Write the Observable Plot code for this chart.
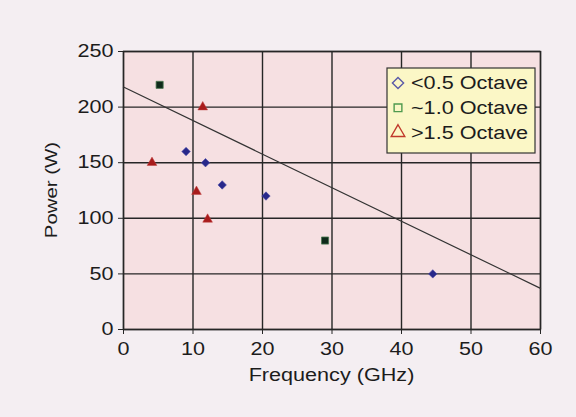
<!DOCTYPE html>
<html><head><meta charset="utf-8">
<script src="https://cdn.jsdelivr.net/npm/d3@7"></script>
<script src="https://cdn.jsdelivr.net/npm/@observablehq/plot@0.6"></script>
<style>body{margin:0;background:#f4eef2;}</style>
</head><body><div id="chart"></div>
<script>
const seriesNames = ["<0.5 Octave", "~1.0 Octave", ">1.5 Octave"];
const lowFreq = [9, 11.8, 14.2, 20.5, 44.5];
const lowPower = [160, 150, 130, 120, 50];
const midFreq = [5.2, 29];
const midPower = [220, 80];
const highFreq = [4.1, 11.4, 10.5, 12.1];
const highPower = [150, 200, 124, 99];
const trendFreq = [0, 60];
const trendPower = [218, 37];
const xTicks = [0, 10, 20, 30, 40, 50, 60];
const yTicks = [0, 50, 100, 150, 200, 250];
const xTitle = "Frequency (GHz)";
const yTitle = "Power (W)";

const toRows = (fs, ps) => fs.map((f, i) => ({f, p: ps[i]}));
const low = toRows(lowFreq, lowPower);
const mid = toRows(midFreq, midPower);
const high = toRows(highFreq, highPower);
const trend = toRows(trendFreq, trendPower);

const ink = "#262626";
const plot = Plot.plot({
  width: 576, height: 417,
  marginLeft: 123, marginRight: 36, marginTop: 51, marginBottom: 88,
  style: {background: "#f4eef2", fontFamily: "'Liberation Sans', Arial, sans-serif", fontSize: "18px", color: "#1c1c1c", overflow: "visible"},
  x: {domain: [0, 60]},
  y: {domain: [0, 250]},
  marks: [
    Plot.frame({fill: "#f6e0e2"}),
    Plot.gridX(xTicks, {stroke: ink, strokeOpacity: 1, strokeWidth: 1.4}),
    Plot.gridY(yTicks, {stroke: ink, strokeOpacity: 1, strokeWidth: 1.4}),
    Plot.frame({stroke: ink, strokeWidth: 1.4}),
    Plot.axisX(xTicks, {tickSize: 5, tickPadding: 8, label: null, stroke: ink}),
    Plot.axisY(yTicks, {tickSize: 5, tickPadding: 5, label: null, stroke: ink}),
    Plot.line(trend, {x: "f", y: "p", stroke: "#333", strokeWidth: 1.2}),
    Plot.dot(low, {x: "f", y: "p", symbol: "diamond2", r: 3.8, fill: "#28288a", stroke: "#4a4aa8", strokeWidth: 0.6}),
    Plot.dot(mid, {x: "f", y: "p", symbol: "square", r: 4, fill: "#0f2a1a", stroke: "#4a7a50", strokeWidth: 0.8}),
    Plot.dot(high, {x: "f", y: "p", symbol: "triangle", r: 3.6, fill: "#a81c1c", stroke: "#c04040", strokeWidth: 0.5})
  ]
});
document.getElementById("chart").append(plot);

const svg = d3.select(plot);
svg.append("text").attr("x", 331.5).attr("y", 381).attr("text-anchor", "middle")
  .attr("fill", "#1c1c1c").attr("font-size", 18).text(xTitle);
svg.append("text").attr("transform", "translate(57,190) rotate(-90)").attr("text-anchor", "middle")
  .attr("fill", "#1c1c1c").attr("font-size", 17).text(yTitle);

// legend
const lg = svg.append("g").attr("text-anchor", "start");
lg.append("rect").attr("x", 387).attr("y", 68).attr("width", 148).attr("height", 85)
  .attr("fill", "#fbf7c6").attr("stroke", "#333").attr("stroke-width", 1.2);
const legendSyms = [
  {sym: d3.symbolDiamond2, size: 80, stroke: "#5a5aa8"},
  {sym: d3.symbolSquare, size: 60, stroke: "#4f9a4f"},
  {sym: d3.symbolTriangle, size: 80, stroke: "#c0392b"}
];
seriesNames.forEach((name, i) => {
  const cy = 83 + i * 24.8;
  lg.append("path").attr("d", d3.symbol(legendSyms[i].sym, legendSyms[i].size)())
    .attr("transform", `translate(398,${cy + (i === 2 ? 0 : 0)})`)
    .attr("fill", "none").attr("stroke", legendSyms[i].stroke).attr("stroke-width", 1.4);
  lg.append("text").attr("x", 411).attr("y", cy).attr("dy", "0.36em")
    .attr("text-anchor", "start")
    .attr("fill", "#1c1c1c").attr("font-size", 18).text(name);
});

// the reference uses a wide sans face: stretch text along its direction
svg.selectAll("text").each(function() {
  const len = this.getComputedTextLength();
  if (len > 0) {
    this.setAttribute("textLength", (len * 1.2).toFixed(1));
    this.setAttribute("lengthAdjust", "spacingAndGlyphs");
  }
});
</script>
</body></html>
